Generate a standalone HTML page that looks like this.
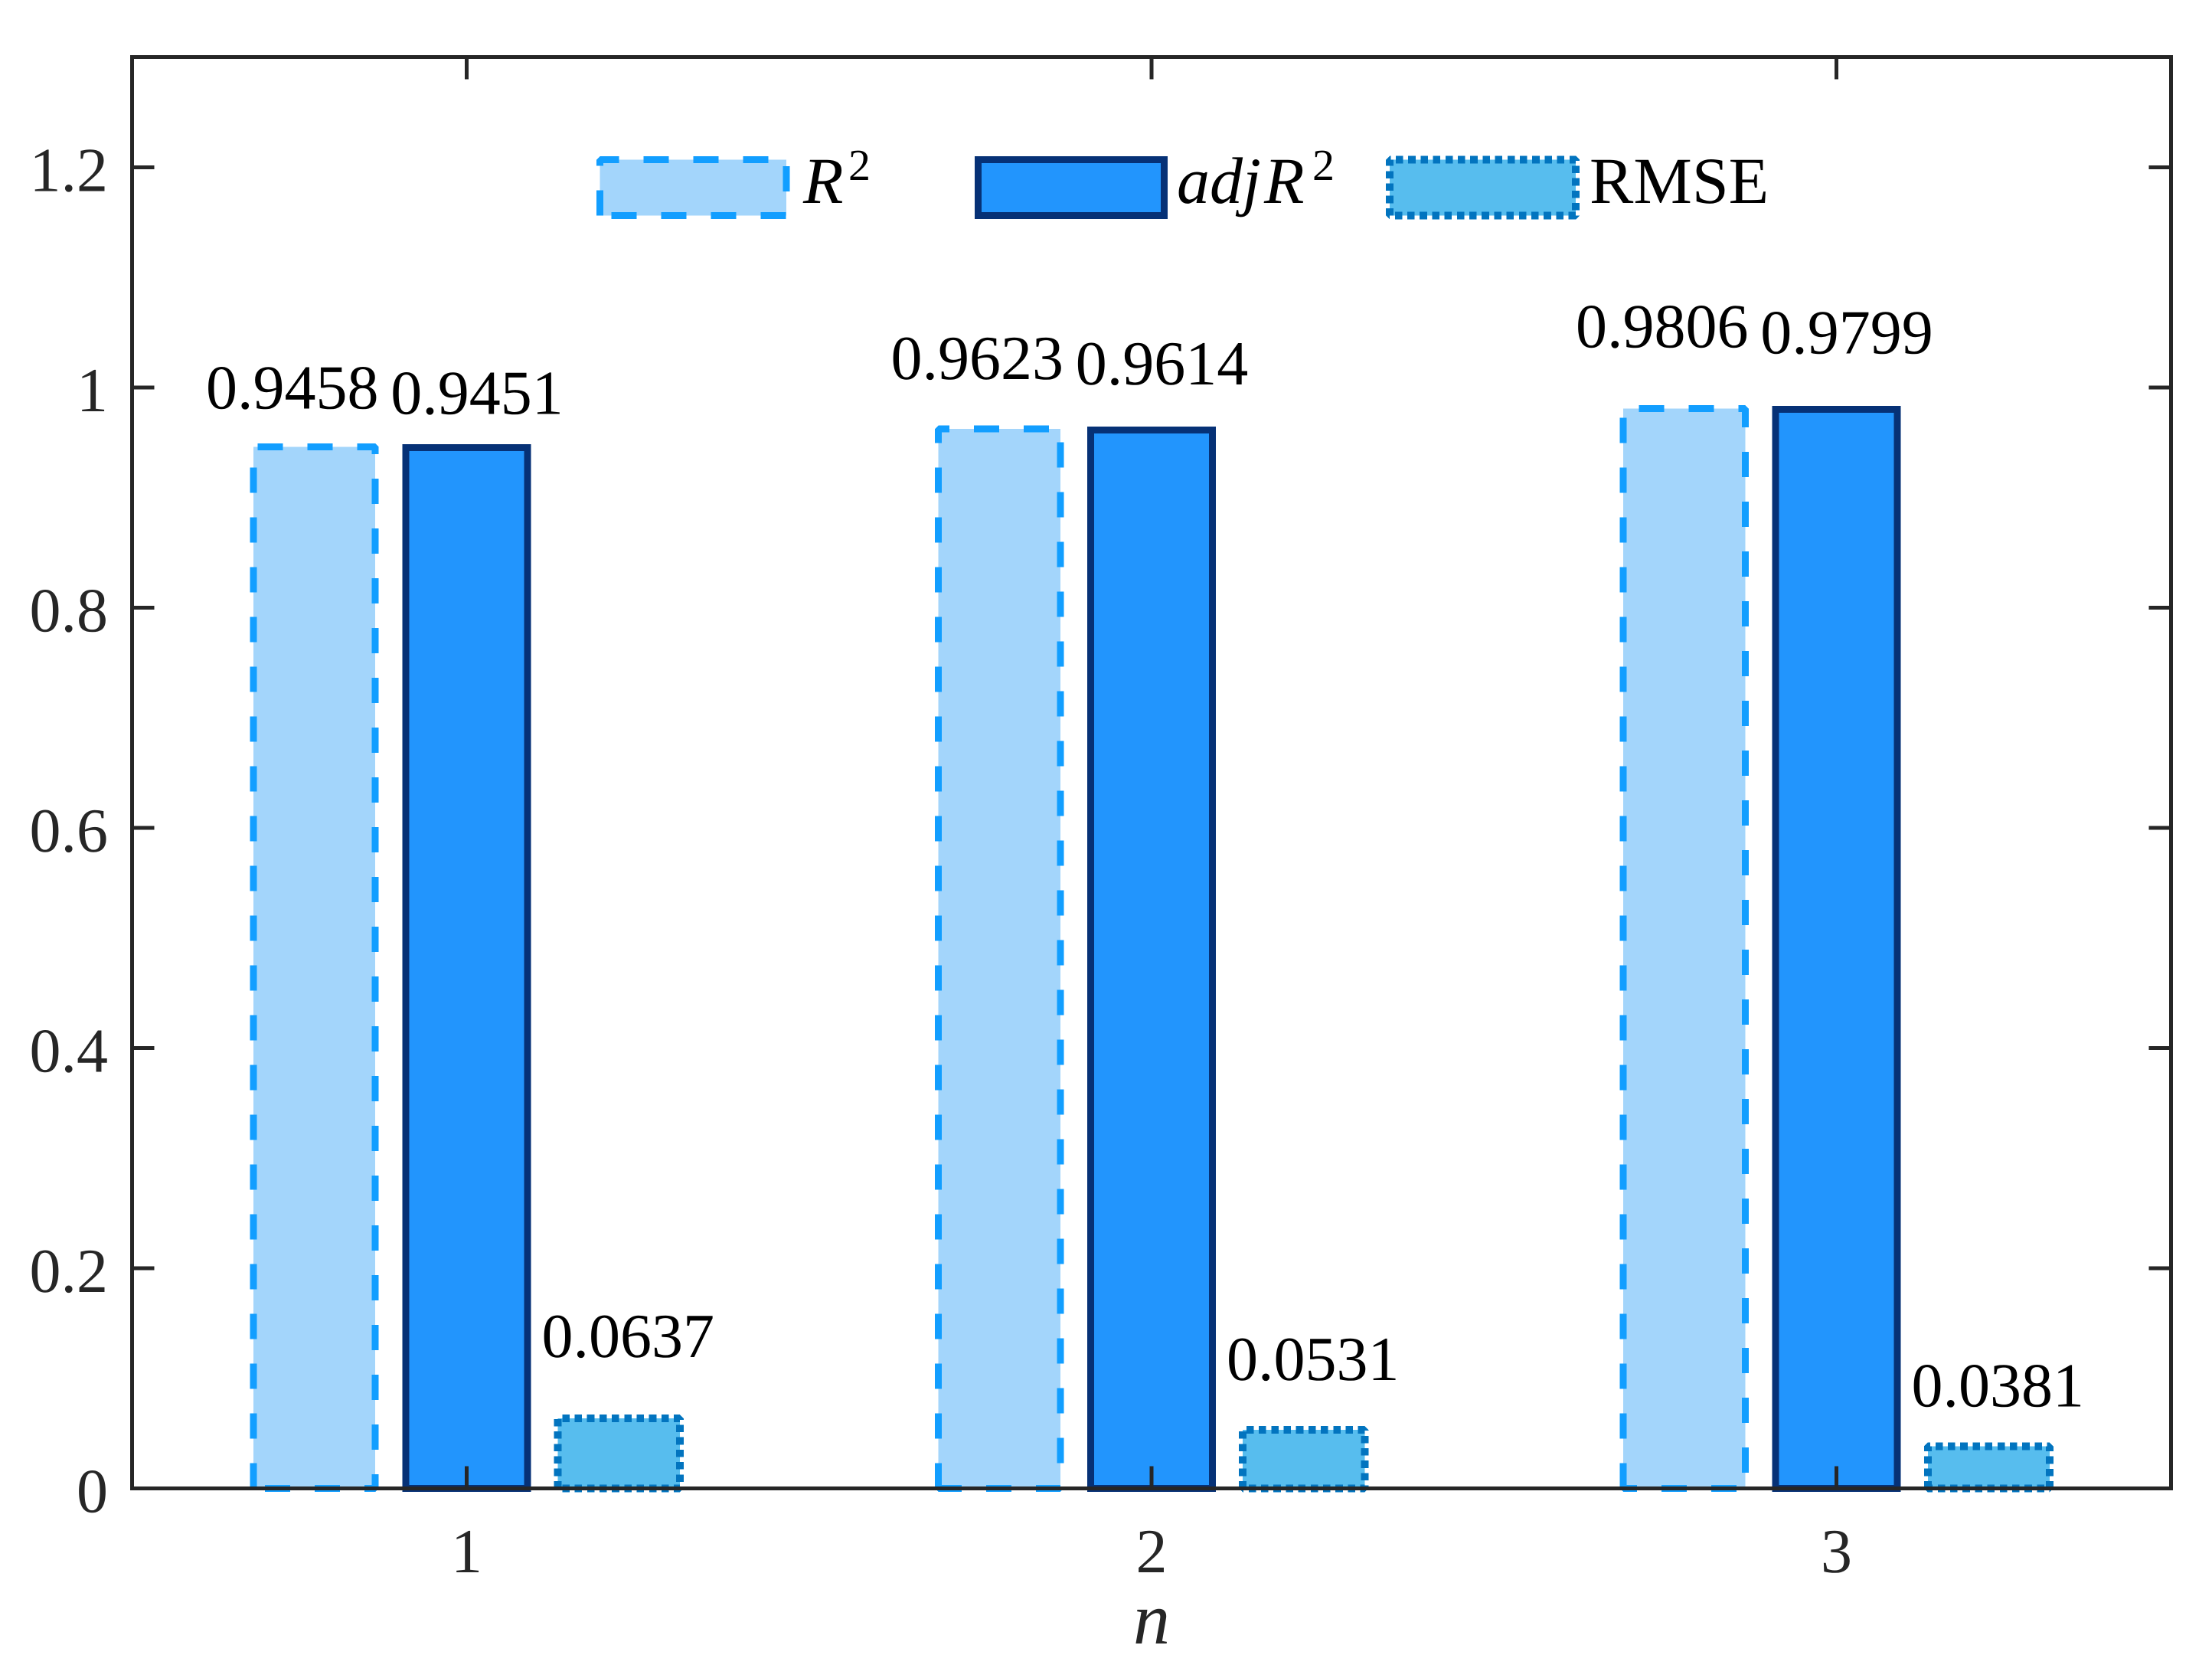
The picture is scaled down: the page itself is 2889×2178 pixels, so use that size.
<!DOCTYPE html>
<html lang="en">
<head>
<meta charset="utf-8">
<title>Model fit by n</title>
<style>
html,body{margin:0;padding:0;background:#fff;}
svg{display:block;}
text{font-family:"Liberation Serif",serif;text-rendering:geometricPrecision;}
</style>
</head>
<body>
<svg id="chart" xmlns="http://www.w3.org/2000/svg" width="2889" height="2178" viewBox="0 0 2889 2178">
  <rect x="0" y="0" width="2889" height="2178" fill="#ffffff"/>
  <g id="bars"></g>
  <g id="value-labels"></g>
  <g id="axes"></g>
  <g>
    <g>
      <path d="M783.5 281.5L783.5 208.5L1027 208.5L1027 281.5Z" fill="#A3D5FB" stroke="#129EFF" stroke-width="9" stroke-dasharray="33 32" stroke-linejoin="bevel" shape-rendering="crispEdges"/>
      <text x="1049" y="265" font-size="86" font-style="italic">R</text>
      <text x="1108" y="235" font-size="58">2</text>
    </g>
    <g>
      <path d="M1277.5 281.5L1277.5 208.5L1520.5 208.5L1520.5 281.5Z" fill="#2295FD" stroke="#063176" stroke-width="9" stroke-linejoin="miter" shape-rendering="crispEdges"/>
      <text x="1537" y="265" font-size="86" font-style="italic">adj</text>
      <text x="1651" y="265" font-size="86" font-style="italic">R</text>
      <text x="1714" y="235" font-size="58">2</text>
    </g>
    <g>
      <path d="M1815 281.5L1815 208.5L2058 208.5L2058 281.5Z" fill="#57BDEE" stroke="#0274BF" stroke-width="10" stroke-dasharray="9.6 6.6" stroke-linejoin="bevel" shape-rendering="crispEdges"/>
      <text x="2076" y="265" font-size="86">RMSE</text>
    </g>
  </g>
</svg>
<script>
const categories = [1, 2, 3];
const r2Values = [0.9458, 0.9623, 0.9806];
const adjR2Values = [0.9451, 0.9614, 0.9799];
const rmseValues = [0.0637, 0.0531, 0.0381];
const yTickValues = [0, 0.2, 0.4, 0.6, 0.8, 1, 1.2];
const yTickLabels = ['0', '0.2', '0.4', '0.6', '0.8', '1', '1.2'];
const xTickLabels = ['1', '2', '3'];

const SVG_NS = 'http://www.w3.org/2000/svg';
const plotLeft = 172.5, plotRight = 2835.5, plotTop = 74.5, plotBottom = 1943.5;
const xMin = 0.5115, xMax = 3.4885, yMax = 1.3;
const xScale = v => plotLeft + (v - xMin) * (plotRight - plotLeft) / (xMax - xMin);
const yScale = v => plotBottom - v * (plotBottom - plotTop) / yMax;

function make(tag, attrs, parent, content) {
  const node = document.createElementNS(SVG_NS, tag);
  Object.keys(attrs).forEach(k => node.setAttribute(k, attrs[k]));
  if (content !== undefined) node.textContent = content;
  parent.appendChild(node);
  return node;
}

const barsLayer = document.getElementById('bars');
const labelsLayer = document.getElementById('value-labels');
const axesLayer = document.getElementById('axes');

function drawSeries(values, seriesIndex, key) {
  const barWidth = 0.1778;
  const offset = [-0.2222, 0, 0.2222][seriesIndex];
  const fills = ['#A3D5FB', '#2295FD', '#57BDEE'];
  const strokes = ['#129EFF', '#063176', '#0274BF'];
  const strokeWidths = [9, 9, 10];
  const dashes = ['33 32', 'none', '9.6 6.6'];
  const joins = ['bevel', 'miter', 'bevel'];
  const labelDx = [-29, 13.5, 12];
  const labelLift = [[50, 65, 80], [44, 59.5, 73], [80, 65, 52]];
  values.forEach((value, i) => {
    const center = categories[i] + offset;
    const left = xScale(center - barWidth / 2);
    const right = xScale(center + barWidth / 2);
    const top = yScale(value);
    const bottom = yScale(0);
    const bar = make('path', {
      d: 'M' + left + ' ' + bottom + 'L' + left + ' ' + top + 'L' + right + ' ' + top + 'L' + right + ' ' + bottom + 'Z',
      fill: fills[seriesIndex],
      stroke: strokes[seriesIndex],
      'stroke-width': strokeWidths[seriesIndex],
      'stroke-dasharray': dashes[seriesIndex],
      'stroke-linejoin': joins[seriesIndex],
      'shape-rendering': 'crispEdges'
    }, barsLayer);
    
    
    const label = make('text', {
      x: xScale(center) + labelDx[seriesIndex],
      y: top - labelLift[seriesIndex][i],
      'font-size': 82,
      'text-anchor': 'middle',
      fill: '#000000'
    }, labelsLayer, value.toFixed(4));
    
    
  });
}

drawSeries(r2Values, 0, 'r2');
drawSeries(adjR2Values, 1, 'adj-r2');
drawSeries(rmseValues, 2, 'rmse');

const axisColor = '#262626';
const tickLength = 29;

function tickLine(x1, y1, x2, y2) {
  return make('line', {
    x1: x1, y1: y1, x2: x2, y2: y2,
    stroke: axisColor,
    'stroke-width': 5,
    'shape-rendering': 'crispEdges'
  }, axesLayer);
}

yTickValues.forEach((value, i) => {
  const y = yScale(value);
  const leftTick = tickLine(plotLeft, y, plotLeft + tickLength, y);
  
  
  const rightTick = tickLine(plotRight, y, plotRight - tickLength, y);
  
  
  const label = make('text', {
    x: 141,
    y: y + 31,
    'font-size': 82,
    'text-anchor': 'end',
    fill: axisColor
  }, axesLayer, yTickLabels[i]);
  
  
});

categories.forEach((category, i) => {
  const x = xScale(category);
  const bottomTick = tickLine(x, plotBottom, x, plotBottom - tickLength);
  
  
  const topTick = tickLine(x, plotTop, x, plotTop + tickLength);
  
  
  const label = make('text', {
    x: x,
    y: 2053,
    'font-size': 82,
    'text-anchor': 'middle',
    fill: axisColor
  }, axesLayer, xTickLabels[i]);
  
  
});

const frame = make('rect', {
  x: plotLeft,
  y: plotTop,
  width: plotRight - plotLeft,
  height: plotBottom - plotTop,
  fill: 'none',
  stroke: axisColor,
  'stroke-width': 5,
  'shape-rendering': 'crispEdges'
}, axesLayer);



const xTitle = make('text', {
  x: xScale(2),
  y: 2146,
  'font-size': 96,
  'font-style': 'italic',
  'text-anchor': 'middle',
  fill: axisColor
}, axesLayer, 'n');


</script>
</body>
</html>
